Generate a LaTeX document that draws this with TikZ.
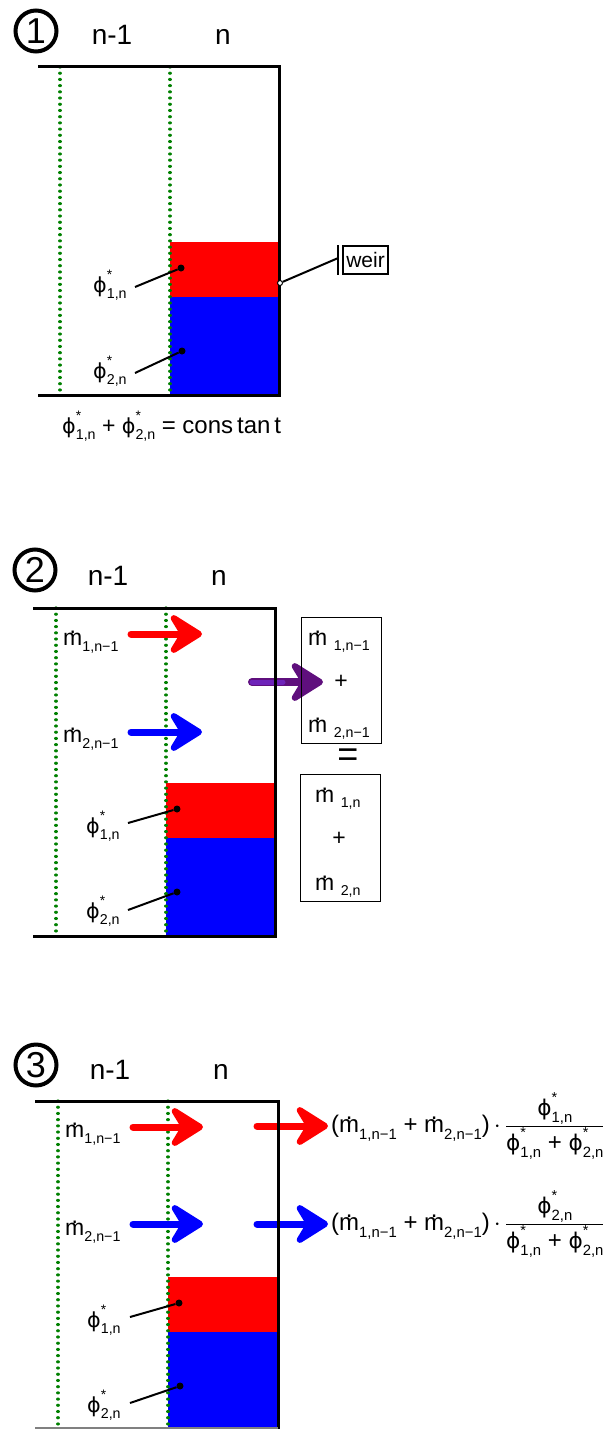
\documentclass[tikz,border=0pt]{standalone}
\usepackage{fontspec}
\setmainfont{Liberation Sans}
\newfontfamily\dvs{DejaVu Sans}
\usepackage{graphicx}
\usetikzlibrary{arrows.meta}
\newcommand\mdotc{{\setbox0\hbox{m}\rlap{\hbox to\wd0{\hss\raisebox{0.52em}{.}\hss}}\box0}}
\newcommand\lowx[1]{\raisebox{-0.3em}{\scalebox{0.62}{#1}}}
\newcommand\lowb[1]{\raisebox{-0.25em}{\scalebox{0.62}{#1}}}
\newcommand\mdt[1]{\mdotc\lowx{#1}}
\newcommand\phg{\scalebox{0.9}{\dvs ϕ}}
\newcommand\phs[1]{\phg\rlap{\raisebox{0.55em}{\scalebox{0.6}{*}}}\lowx{#1}}
\definecolor{dgreen}{RGB}{0,128,0}
\definecolor{pcol}{RGB}{110,35,185}
\definecolor{pdark}{RGB}{95,15,125}
\begin{document}
\begin{tikzpicture}[x=1pt,y=-1pt,
 wall/.style={line width=3pt, line join=miter},
 grn/.style={draw=dgreen, line width=3.2pt, line cap=round, dash pattern=on 0.01pt off 6.2pt},
 lbl/.style={inner sep=0pt, font=\fontsize{23}{27}\selectfont},
 ttl/.style={inner sep=0pt, font=\fontsize{28}{32}\selectfont, anchor=base},
 num/.style={circle, draw, line width=4pt, minimum size=41pt, inner sep=0pt, font=\fontsize{36}{36}\selectfont},
 lead/.style={line width=2pt},
 dotn/.style={circle, fill, inner sep=0pt, minimum size=7pt},
 flow/.style={line width=7pt, line cap=round, -{Stealth[length=40pt,width=50pt,inset=15pt,round]}},
 boxn/.style={draw, line width=1pt, inner sep=0pt, anchor=north west},
 frm/.style={inner sep=0pt, font=\fontsize{24}{28}\selectfont, anchor=west},
]
\useasboundingbox (0,0) rectangle (608,1429);
% ================= Panel 1 =================
\fill[red] (170,242) rectangle (279,297);
\fill[blue] (170,297) rectangle (279,395);
\draw[grn] (60,67) -- (60,395);
\draw[grn] (170,67) -- (170,395);
\draw[wall] (38,67) -- (279,67) -- (279,395) -- (38,395);
\node[num] (c1) at (36,31) {1};
\node[ttl] (t1a) at (112,45) {n-1};
\node[ttl] (t1b) at (223,45) {n};
\node[lbl, anchor=base west] (p11) at (93,292) {\phs{1,n}};
\node[lbl, anchor=base west] (p12) at (93,378) {\phs{2,n}};
\coordinate (l11) at (135,287);
\coordinate (l12) at (135,373);
\node[dotn] (d11) at (181,268) {};
\node[dotn] (d12) at (182,351) {};
\draw[lead] (l11) -- (d11);
\draw[lead] (l12) -- (d12);
\node[draw, line width=1.5pt, inner sep=0pt, minimum width=45pt, minimum height=28pt, font=\fontsize{21}{24}\selectfont] (weir) at (365.5,260) {weir};
\coordinate (wbt) at ([xshift=-4pt]weir.north west);
\coordinate (wbb) at ([xshift=-4pt]weir.south west);
\coordinate (wbm) at ([xshift=-4pt,yshift=2pt]weir.west);
\draw[line width=2pt] (wbt) -- (wbb);
\node[circle, draw, fill=white, inner sep=0pt, minimum size=5pt, line width=1pt] (wp) at (280,283) {};
\draw[lead] (wp) -- (wbm);
\node[lbl, anchor=base west] (cst) at (62,433) {\phs{1,n} + \phs{2,n} {\fontsize{24}{28}\selectfont = cons\,tan\,t}};
% ================= Panel 2 =================
\fill[red] (166,783) rectangle (275,838);
\fill[blue] (166,838) rectangle (275,936);
\draw[grn] (56,608) -- (56,936);
\draw[grn] (166,608) -- (166,936);
\node[num] (c2) at (35,570) {2};
\node[ttl] (t2a) at (108,585) {n-1};
\node[ttl] (t2b) at (219,585) {n};
\node[lbl, anchor=base west] (m21) at (63,645) {\mdt{1,n−1}};
\node[lbl, anchor=base west] (m22) at (63,742) {\mdt{2,n−1}};
\coordinate (a21s) at (131,634); \coordinate (a21e) at (202,634);
\coordinate (a22s) at (131,732); \coordinate (a22e) at (202,732);
\draw[flow, red] (a21s) -- (a21e);
\draw[flow, blue] (a22s) -- (a22e);
\coordinate (a23s) at (252,682); \coordinate (a23e) at (323,682);
\draw[flow, pdark, line width=8pt] (a23s) -- (a23e);
\draw[line width=5pt, line cap=round, pcol] (a23s) -- ([xshift=-40pt]a23e);
\node[lbl, anchor=base west] (p21) at (86,833) {\phs{1,n}};
\node[lbl, anchor=base west] (p22) at (86,918) {\phs{2,n}};
\coordinate (l21) at (128,823);
\coordinate (l22) at (128,910);
\node[dotn] (d21) at (177,809) {};
\node[dotn] (d22) at (177,892) {};
\draw[lead] (l21) -- (d21);
\draw[lead] (l22) -- (d22);
\draw[wall] (33,608) -- (275,608) -- (275,936) -- (33,936);
\node[boxn, minimum width=80pt, minimum height=126pt] (b1) at (301,617) {};
\node[lbl, anchor=base west] (b1a) at (308,645) {\mdotc\ \lowb{1,n−1}};
\node[lbl] (b1b) at (341,682) {+};
\node[lbl, anchor=base west] (b1c) at (308,732) {\mdotc\ \lowb{2,n−1}};
\node[inner sep=0pt, font=\fontsize{36}{36}\selectfont] (eq) at (348,758) {=};
\node[boxn, minimum width=80pt, minimum height=127pt] (b2) at (300,774) {};
\node[lbl, anchor=base west] (b2a) at (315,802) {\mdotc\ \lowb{1,n}};
\node[lbl] (b2b) at (339,839) {+};
\node[lbl, anchor=base west] (b2c) at (315,890) {\mdotc\ \lowb{2,n}};
% ================= Panel 3 =================
\fill[red] (168,1277) rectangle (278,1332);
\fill[blue] (168,1332) rectangle (278,1429);
\draw[grn] (58,1101) -- (58,1429);
\draw[grn] (168,1101) -- (168,1429);
\node[num] (c3) at (36,1065) {3};
\node[ttl] (t3a) at (110,1079) {n-1};
\node[ttl] (t3b) at (221,1079) {n};
\node[lbl, anchor=base west] (m31) at (65,1137) {\mdt{1,n−1}};
\node[lbl, anchor=base west] (m32) at (65,1235) {\mdt{2,n−1}};
\coordinate (a31s) at (133,1127); \coordinate (a31e) at (203,1127);
\coordinate (a32s) at (133,1224); \coordinate (a32e) at (203,1224);
\coordinate (a33s) at (257,1126); \coordinate (a33e) at (328,1126);
\coordinate (a34s) at (257,1224); \coordinate (a34e) at (328,1224);
\draw[flow, red] (a31s) -- (a31e);
\draw[flow, blue] (a32s) -- (a32e);
\draw[flow, red] (a33s) -- (a33e);
\draw[flow, blue] (a34s) -- (a34e);
\node[lbl, anchor=base west] (p31) at (87,1327) {\phs{1,n}};
\node[lbl, anchor=base west] (p32) at (87,1412) {\phs{2,n}};
\coordinate (l31) at (130,1317);
\coordinate (l32) at (130,1403);
\node[dotn] (d31) at (179,1303) {};
\node[dotn] (d32) at (180,1386) {};
\draw[lead] (l31) -- (d31);
\draw[lead] (l32) -- (d32);
\draw[wall] (35,1101) -- (278,1101) -- (278,1431);
\draw[line width=2pt, gray] (35,1428) -- (278,1428);
\node[frm] (f1) at (331,1126) {(\mdt{1,n−1} + \mdt{2,n−1})$\,\cdot\,\displaystyle\frac{\mbox{\phs{1,n}}}{\mbox{\phs{1,n} + \phs{2,n}}}$};
\node[frm] (f2) at (331,1224) {(\mdt{1,n−1} + \mdt{2,n−1})$\,\cdot\,\displaystyle\frac{\mbox{\phs{2,n}}}{\mbox{\phs{1,n} + \phs{2,n}}}$};
\end{tikzpicture}
\end{document}
